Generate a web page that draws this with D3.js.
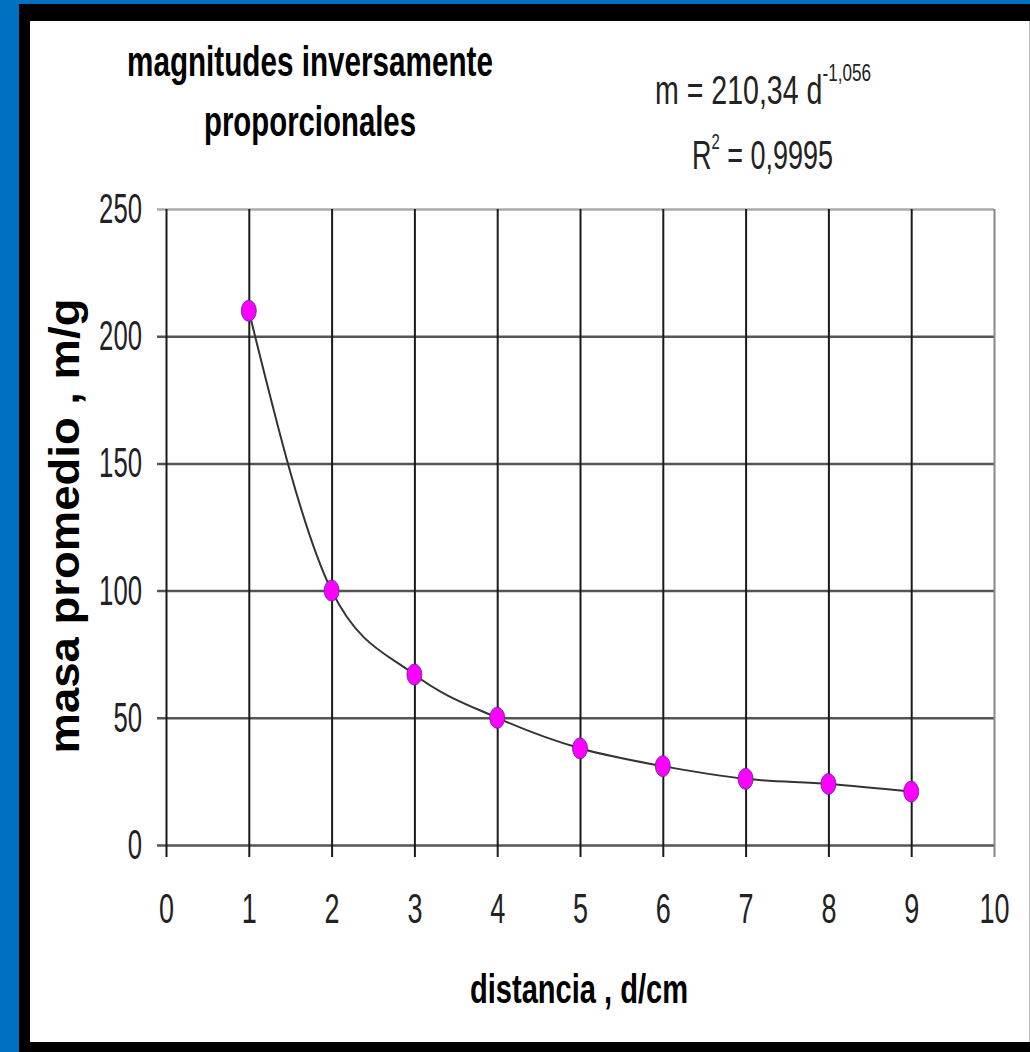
<!DOCTYPE html>
<html>
<head>
<meta charset="utf-8">
<script src="https://cdn.jsdelivr.net/npm/d3@7"></script>
<style>
  body { margin: 0; background: #0070c0; }
  text { font-family: "Liberation Sans", Arial, sans-serif; }
</style>
</head>
<body>
<svg width="1030" height="1052"></svg>
<script>
// data
var distance = [1, 2, 3, 4, 5, 6, 7, 8, 9];
var mass = [210, 100, 67, 50, 38, 31, 26, 24, 21];
var xTicks = [0, 1, 2, 3, 4, 5, 6, 7, 8, 9, 10];
var yTicks = [0, 50, 100, 150, 200, 250];
var titleLines = ["magnitudes inversamente", "proporcionales"];

var svg = d3.select("svg");

// frame
svg.append("rect").attr("width", 1030).attr("height", 1052).attr("fill", "#0070c0");
svg.append("rect").attr("x", 19).attr("y", 4).attr("width", 1011).attr("height", 1048).attr("fill", "#000");
svg.append("rect").attr("x", 30).attr("y", 21).attr("width", 999).attr("height", 1021).attr("fill", "#fff");
svg.append("line").attr("x1", 1029.5).attr("x2", 1029.5).attr("y1", 21).attr("y2", 1042)
    .attr("stroke", "#bbb").attr("stroke-width", 1);

var x = d3.scaleLinear().domain([0, 10]).range([166, 994]);
var y = d3.scaleLinear().domain([0, 250]).range([845, 209]);

// horizontal grid + y labels
var gy = svg.append("g")
    .attr("transform", "translate(" + x(0) + ",0)")
    .call(d3.axisLeft(y).tickValues(yTicks).tickSize(-(x(10) - x(0))).tickPadding(24));
gy.select(".domain").remove();
gy.selectAll(".tick line")
    .attr("x1", -9)
    .attr("stroke", function(d) { return d === 250 ? "#aaa" : "#555"; })
    .attr("stroke-width", 2.5);
gy.selectAll(".tick text")
    .attr("font-size", 42)
    .attr("fill", "#222")
    .attr("font-family", "Liberation Sans, Arial, sans-serif")
    .attr("textLength", function(d) { return String(d).length * 14.3; })
    .attr("lengthAdjust", "spacingAndGlyphs");

// vertical grid + x labels
var gx = svg.append("g")
    .attr("transform", "translate(0," + y(0) + ")")
    .call(d3.axisBottom(x).tickValues(xTicks).tickSize(-(y(0) - y(250))).tickPadding(48));
gx.select(".domain").remove();
gx.selectAll(".tick line")
    .attr("y1", 12)
    .attr("stroke", function(d) { return d === 10 ? "#888" : "#1a1a1a"; })
    .attr("stroke-width", 2);
gx.selectAll(".tick text")
    .attr("font-size", 42)
    .attr("fill", "#222")
    .attr("font-family", "Liberation Sans, Arial, sans-serif")
    .attr("textLength", function(d) { return String(d).length * 15; })
    .attr("lengthAdjust", "spacingAndGlyphs");

// trend line
var points = distance.map(function(d, i) { return { d: d, m: mass[i] }; });
var line = d3.line()
    .x(function(p) { return x(p.d); })
    .y(function(p) { return y(p.m); })
    .curve(d3.curveMonotoneX);

svg.append("path")
    .datum(points)
    .attr("d", line)
    .attr("fill", "none")
    .attr("stroke", "#333")
    .attr("stroke-width", 2);

// markers
svg.selectAll(".pt")
    .data(points)
    .enter().append("ellipse")
    .attr("class", "pt")
    .attr("cx", function(p) { return x(p.d); })
    .attr("cy", function(p) { return y(p.m); })
    .attr("rx", 7.5)
    .attr("ry", 10.5)
    .attr("fill", "#ff00ff")
    .attr("stroke", "#4a2a9a")
    .attr("stroke-width", 0.8);

// title
svg.selectAll(".title")
    .data(titleLines)
    .enter().append("text")
    .attr("class", "title")
    .attr("x", 310)
    .attr("y", function(d, i) { return 76 + i * 60; })
    .attr("text-anchor", "middle")
    .attr("font-size", 43)
    .attr("font-weight", "bold")
    .attr("textLength", function(d, i) { return i === 0 ? 366 : 212; })
    .attr("lengthAdjust", "spacingAndGlyphs")
    .text(function(d) { return d; });

// equation (one text element per line, superscript as tspan)
var eq1 = svg.append("text")
    .attr("x", 655).attr("y", 104)
    .attr("font-size", 40)
    .attr("fill", "#222")
    .attr("textLength", 216)
    .attr("lengthAdjust", "spacingAndGlyphs");
eq1.append("tspan").text("m = 210,34 d");
eq1.append("tspan").attr("dy", -23).attr("font-size", 24).text("-1,056");

var eq2 = svg.append("text")
    .attr("x", 692).attr("y", 169)
    .attr("font-size", 40)
    .attr("fill", "#222")
    .attr("textLength", 141)
    .attr("lengthAdjust", "spacingAndGlyphs");
eq2.append("tspan").text("R");
eq2.append("tspan").attr("dy", -20).attr("font-size", 22).text("2");
eq2.append("tspan").attr("dy", 20).text(" = 0,9995");

// axis titles
svg.append("text")
    .attr("x", 579)
    .attr("y", 1003)
    .attr("text-anchor", "middle")
    .attr("font-size", 41)
    .attr("font-weight", "bold")
    .attr("textLength", 218)
    .attr("lengthAdjust", "spacingAndGlyphs")
    .text("distancia , d/cm");

svg.append("text")
    .attr("transform", "translate(79,526) rotate(-90)")
    .attr("text-anchor", "middle")
    .attr("font-size", 42)
    .attr("font-weight", "bold")
    .attr("textLength", 455)
    .attr("lengthAdjust", "spacingAndGlyphs")
    .text("masa promedio , m/g");
</script>
</body>
</html>
